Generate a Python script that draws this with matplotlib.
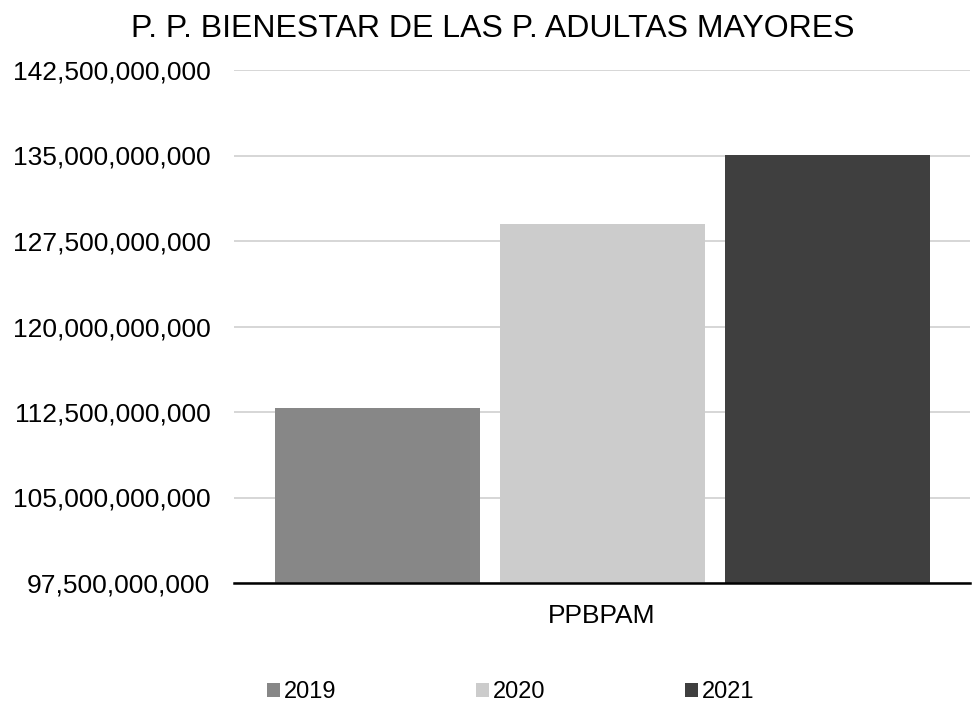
import matplotlib
matplotlib.use("Agg")
import matplotlib.pyplot as plt
from matplotlib.patches import Patch
from matplotlib.ticker import FuncFormatter, MultipleLocator

plt.rcParams['font.family'] = ['Liberation Sans', 'DejaVu Sans']

title = "P. P. BIENESTAR DE LAS P. ADULTAS MAYORES"
category = "PPBPAM"
years = ["2019", "2020", "2021"]
values = [112_850_000_000, 128_990_000_000, 135_080_000_000]
colors = ["#878787", "#cccccc", "#3f3f3f"]

W, H = 975, 704
fig = plt.figure(figsize=(W / 100, H / 100), dpi=100)
ax = fig.add_axes([234 / W, (H - 583) / H, (970 - 234) / W, (583 - 70) / H])

width = 205 / 736
offset = 225 / 736
for i, (y, v, c) in enumerate(zip(years, values, colors)):
    ax.bar((i - 1) * offset, v, width=width, color=c, zorder=2, label=y)

ax.set_xlim(-0.5, 0.5)
ax.set_ylim(97_500_000_000, 142_500_000_000)
ax.yaxis.set_major_locator(MultipleLocator(7_500_000_000))
ax.yaxis.set_major_formatter(FuncFormatter(lambda v, p: f"{v:,.0f}"))
ax.set_xticks([0])
ax.set_xticklabels([category])
ax.tick_params(axis='x', length=0, labelsize=19, pad=15, colors='#000000')
ax.tick_params(axis='y', length=0, labelsize=19, pad=17, colors='#000000')
ax.grid(axis='y', color='#d0d0d0', linewidth=1.2, zorder=0)
for s in ['top', 'right', 'left']:
    ax.spines[s].set_visible(False)
ax.spines['bottom'].set_color('#000000')
ax.spines['bottom'].set_linewidth(1.8)
ax.spines['bottom'].set_zorder(3)

fig.text(0.5 * (133 + 852) / W, 1 - 37 / H, title, ha='center', va='baseline', fontsize=23)

handles = [Patch(facecolor=c, edgecolor='none') for c in colors]
fig.legend(handles, years, loc='center', bbox_to_anchor=(0.5 * (267 + 754) / W, 1 - 692 / H),
           ncol=3, frameon=False, fontsize=17, handlelength=0.55, handleheight=0.55,
           handletextpad=0.17, columnspacing=5.9)

fig.savefig("out.png", dpi=100, facecolor='white')
